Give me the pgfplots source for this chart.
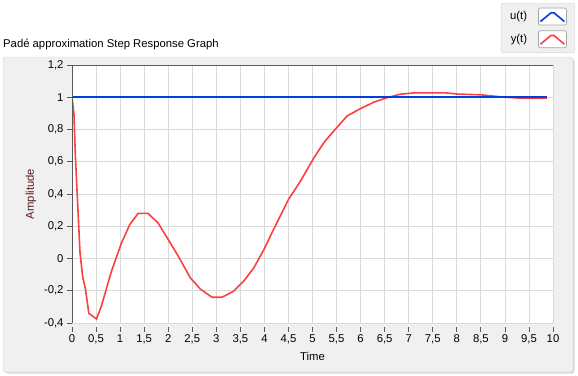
\documentclass[border=0pt]{standalone}
\usepackage{pgfplots}
\pgfplotsset{compat=1.18}
\usepackage{fontspec}
\setmainfont{Liberation Sans}
\definecolor{ublue}{RGB}{0,62,222}
\definecolor{yred}{RGB}{252,64,64}
\definecolor{panelgray}{RGB}{240,240,240}
\definecolor{panelborder}{RGB}{214,214,214}
\definecolor{gridgray}{RGB}{218,218,218}
\definecolor{axisdark}{RGB}{90,90,90}
\definecolor{amplabel}{RGB}{95,25,25}
\newcommand{\lvfont}{\fontsize{11.3bp}{13bp}\selectfont}
\begin{document}
\begin{tikzpicture}[x=1bp,y=1bp]
\path[use as bounding box, fill=white] (0,0) rectangle (578,375);
% panel
\fill[gray!30, rounded corners=3bp] (4.5,1.5) rectangle (574.5,316.5);
\fill[panelgray, draw=panelborder, rounded corners=3bp] (3,3) rectangle (573,318);
\node[anchor=west, inner sep=0pt, font=\lvfont] at (3,330) {Padé approximation Step Response Graph};
\begin{axis}[
  at={(72bp,52bp)}, anchor=south west,
  scale only axis, width=481bp, height=258bp,
  xmin=0, xmax=10, ymin=-0.4, ymax=1.2,
  xtick={0,0.5,1,1.5,2,2.5,3,3.5,4,4.5,5,5.5,6,6.5,7,7.5,8,8.5,9,9.5,10},
  ytick={-0.4,-0.2,0,0.2,0.4,0.6,0.8,1,1.2},
  /pgf/number format/use comma,
  /pgf/number format/assume math mode=true,
  tick label style={font=\lvfont},
  tick align=outside, major tick length=5bp,
  xtick pos=bottom, ytick pos=left,
  xtick style={draw=axisdark, line width=0.8pt, yshift=-3.5bp},
  ytick style={draw=axisdark, line width=0.8pt},
  xticklabel style={yshift=-3.5bp},
  axis background/.style={fill=white},
  axis line style={draw=gridgray, line width=0.8pt},
  grid=major, major grid style={draw=gridgray, line width=0.8pt},
  xlabel={Time}, ylabel={Amplitude},
  xlabel style={font=\lvfont, at={(rel axis cs:0.5,0)}, anchor=center, yshift=-33bp},
  ylabel style={font=\lvfont, text=amplabel, at={([xshift=-41bp]rel axis cs:0,0.5)}, anchor=center},
  reverse legend,
  legend plot pos=right,
  legend cell align=right,
  legend style={at={(rel axis cs:1.0457,1.2403)}, anchor=north east,
    fill=panelgray, draw=panelborder, rounded corners=2bp, font=\lvfont,
    inner xsep=8bp, inner ysep=4.5bp, row sep=5bp, column sep=10bp,
    nodes={inner sep=1bp}},
  legend image code/.code={
    \draw[draw=gray!70, fill=white, line width=0.7pt, solid] (0bp,-8.5bp) rectangle (28bp,8.5bp);
    \draw[#1, line width=1.6pt] (2bp,-5bp) -- (14bp,5bp) -- (26bp,-5bp);
  },
  after end axis/.code={
    \draw[axisdark, line width=0.9pt] (rel axis cs:0,0) -- (rel axis cs:0,1) -- (rel axis cs:1,1);
  },
]
\addplot[yred, line width=1.6pt] coordinates {
(0,1.0) (0.04,0.9) (0.07,0.635) (0.11,0.387) (0.167,0.035) (0.22,-0.11)
(0.28,-0.19) (0.35,-0.34) (0.51,-0.375) (0.61,-0.296) (0.82,-0.079)
(1.03,0.097) (1.2,0.21) (1.375,0.28) (1.58,0.28) (1.79,0.22) (2.0,0.118)
(2.21,0.014) (2.46,-0.12) (2.67,-0.19) (2.91,-0.24) (3.12,-0.24)
(3.36,-0.203) (3.57,-0.14) (3.78,-0.058) (3.99,0.056) (4.19,0.18)
(4.5,0.366) (4.75,0.48) (5.03,0.625) (5.24,0.72) (5.44,0.79) (5.72,0.884)
(6.0,0.93) (6.28,0.97) (6.56,0.998) (6.83,1.019) (7.11,1.027) (7.77,1.027)
(8.0,1.02) (8.5,1.015) (9.0,1.0) (9.3,0.995) (9.87,0.995)
};
\addlegendentry{y(t)}
\addplot[ublue, line width=1.8pt] coordinates {(0,1) (9.87,1)};
\addlegendentry{u(t)}
\end{axis}
\end{tikzpicture}
\end{document}
